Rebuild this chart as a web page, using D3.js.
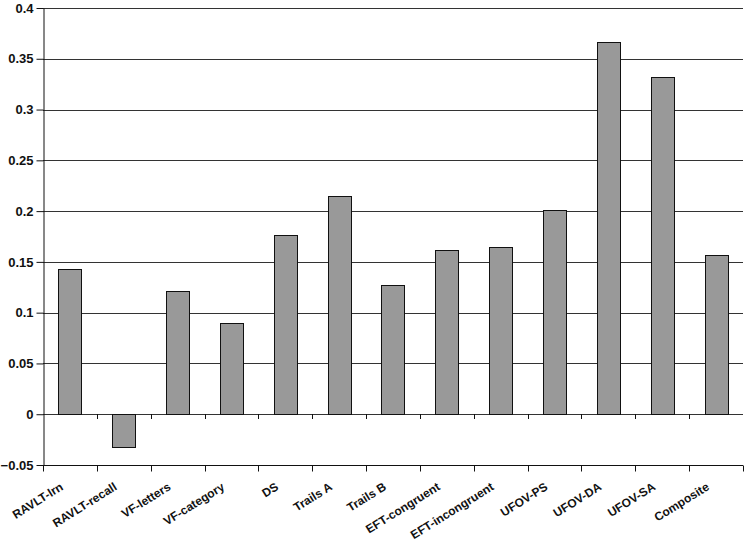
<!DOCTYPE html>
<html>
<head>
<meta charset="utf-8">
<script src="https://cdnjs.cloudflare.com/ajax/libs/d3/7.8.5/d3.min.js"></script>
<style>
  body { margin: 0; background: #fff; }
  svg { display: block; }
  text { font-family: "Liberation Sans", Arial, sans-serif; font-weight: bold; fill: #111; }
</style>
</head>
<body>
<div class="chart"></div>
<script>
  const width = 750;
  const height = 544;
  const margin = { top: 8, right: 7, bottom: 79, left: 43 };

  const measures = ['RAVLT-lrn', 'RAVLT-recall', 'VF-letters', 'VF-category', 'DS', 'Trails A',
    'Trails B', 'EFT-congruent', 'EFT-incongruent', 'UFOV-PS', 'UFOV-DA', 'UFOV-SA', 'Composite'];
  const effects = [0.143, -0.032, 0.121, 0.090, 0.176, 0.215, 0.127, 0.162, 0.165, 0.201, 0.367, 0.332, 0.157];
  const yTicks = [-0.05, 0, 0.05, 0.1, 0.15, 0.2, 0.25, 0.3, 0.35, 0.4];

  const svg = d3.select('.chart').append('svg')
    .attr('width', width)
    .attr('height', height);

  const xScale = d3.scaleBand()
    .domain(measures)
    .range([margin.left, width - margin.right])
    .paddingInner(0.57)
    .paddingOuter(0.285);

  const yScale = d3.scaleLinear()
    .domain([-0.05, 0.4])
    .range([height - margin.bottom, margin.top]);

  // gridlines
  svg.append('g')
    .selectAll('line')
    .data(yTicks.filter(d => d !== -0.05))
    .join('line')
    .attr('x1', margin.left)
    .attr('x2', width - margin.right)
    .attr('y1', d => Math.round(yScale(d)) + 0.5)
    .attr('y2', d => Math.round(yScale(d)) + 0.5)
    .attr('stroke', '#333')
    .attr('stroke-width', 1);

  // bars
  svg.append('g')
    .selectAll('rect')
    .data(measures)
    .join('rect')
    .attr('x', d => Math.round(xScale(d)) + 0.5)
    .attr('width', Math.round(xScale.bandwidth()))
    .attr('y', (d, i) => Math.round(yScale(Math.max(0, effects[i]))) + 0.5)
    .attr('height', (d, i) => Math.abs(Math.round(yScale(effects[i])) - Math.round(yScale(0))))
    .attr('fill', '#999999')
    .attr('stroke', '#111')
    .attr('stroke-width', 1);

  // category boundaries
  const step = xScale.step();
  const bounds = d3.range(measures.length + 1).map(i => margin.left + i * step);

  // small ticks on the zero line
  svg.append('g')
    .selectAll('line')
    .data(bounds.slice(1, -1))
    .join('line')
    .attr('x1', d => Math.round(d) + 0.5)
    .attr('x2', d => Math.round(d) + 0.5)
    .attr('y1', Math.round(yScale(0)))
    .attr('y2', Math.round(yScale(0)) + 5)
    .attr('stroke', '#111');

  // y axis
  const yAxis = d3.axisLeft(yScale)
    .tickValues(yTicks)
    .tickFormat(d => d3.format('')(+d.toFixed(2)))
    .tickSize(7)
    .tickSizeOuter(0);

  svg.append('g')
    .attr('transform', `translate(${margin.left + 0.5}, 0)`)
    .call(yAxis)
    .attr('font-family', null)
    .call(g => g.selectAll('text')
      .style('font-size', '13px')
      .attr('x', -10))
    .call(g => g.selectAll('line, path').attr('stroke', '#111'));

  // bottom category axis
  const yb = Math.round(yScale(-0.05)) + 0.5;
  svg.append('line')
    .attr('x1', margin.left)
    .attr('x2', width - margin.right)
    .attr('y1', yb)
    .attr('y2', yb)
    .attr('stroke', '#111');

  svg.append('g')
    .selectAll('line')
    .data(bounds)
    .join('line')
    .attr('x1', d => Math.round(d) + 0.5)
    .attr('x2', d => Math.round(d) + 0.5)
    .attr('y1', yb)
    .attr('y2', yb + 6)
    .attr('stroke', '#111');

  svg.append('g')
    .selectAll('text')
    .data(measures)
    .join('text')
    .attr('transform', d => `translate(${xScale(d) + xScale.bandwidth() / 2 - 6}, ${yb + 23.5}) rotate(-32)`)
    .attr('text-anchor', 'end')
    .style('font-size', '12px')
    .text(d => d);
</script>
</body>
</html>
